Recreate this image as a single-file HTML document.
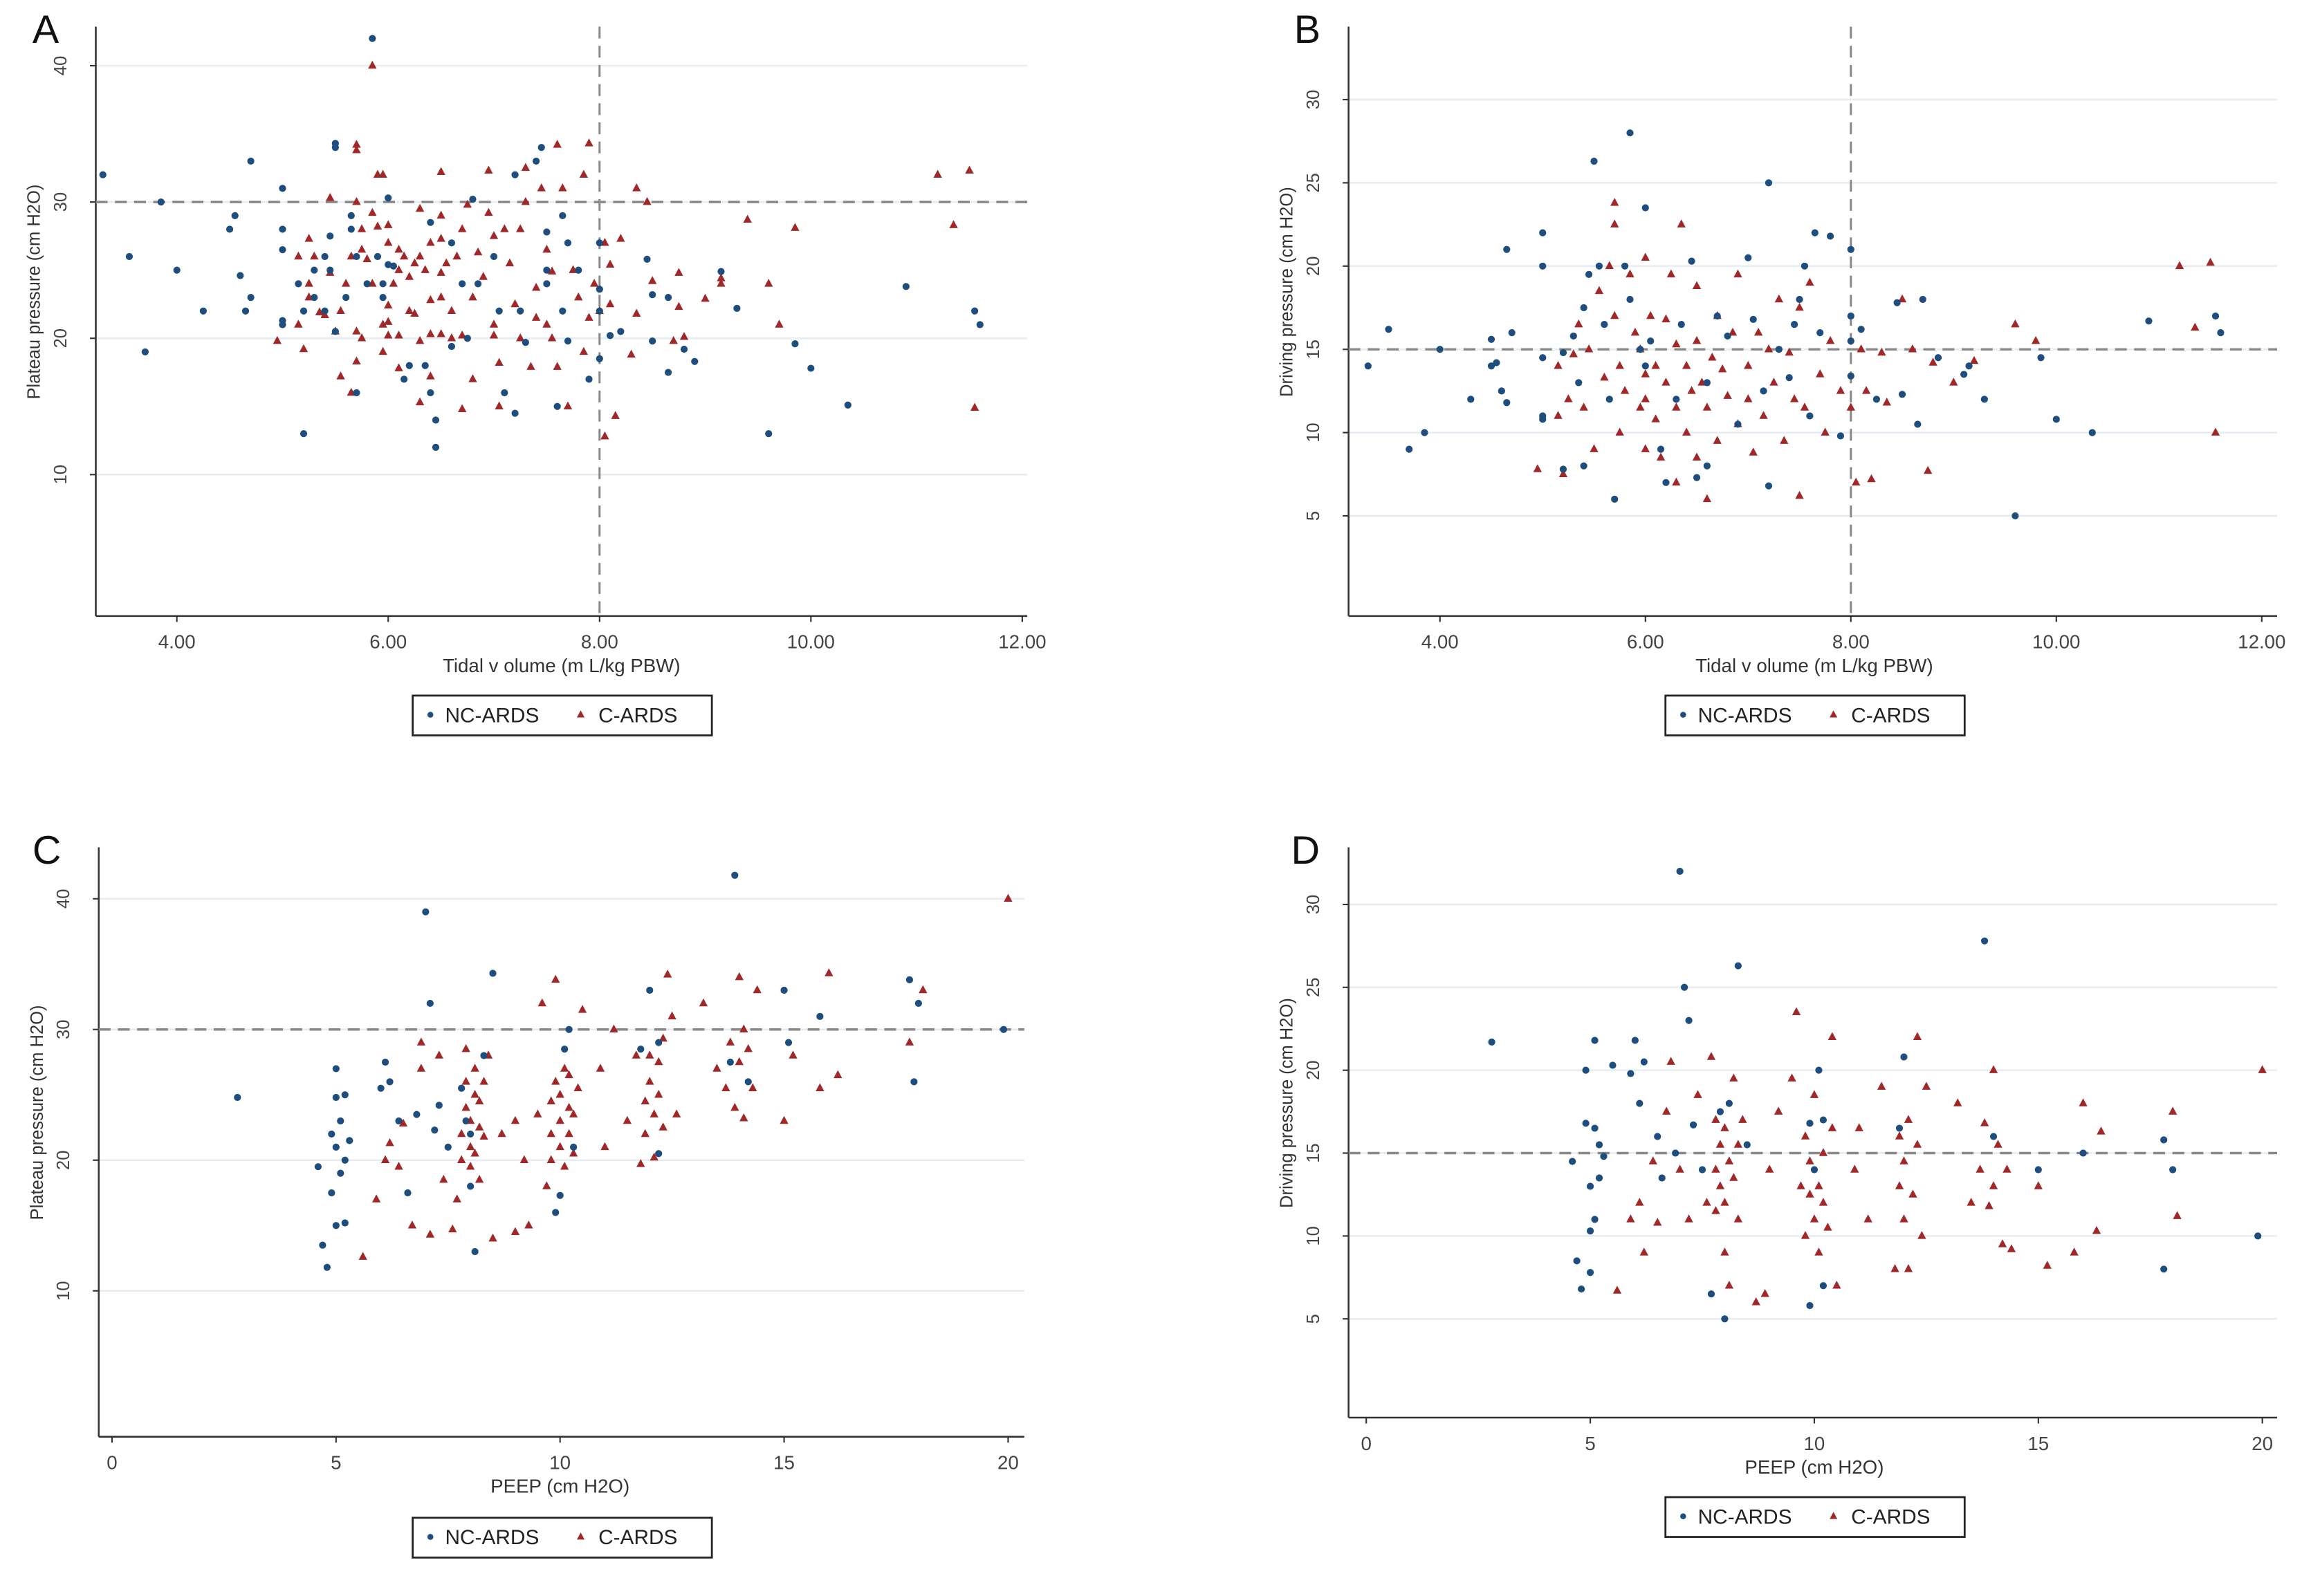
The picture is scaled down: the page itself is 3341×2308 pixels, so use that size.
<!DOCTYPE html>
<html><head><meta charset="utf-8"><style>
html,body{margin:0;padding:0;background:#fff;}
svg{display:block;font-family:"Liberation Sans",sans-serif;}
</style></head><body>
<svg id="fig" xmlns="http://www.w3.org/2000/svg" width="3341" height="2308" viewBox="0 0 1568 1083"></svg>
<script>
// ---- Panel A data (tidal volume vs plateau pressure)
const aNcX=[3.3,3.55,3.7,3.85,4.0,4.25,4.5,4.55,4.6,4.65,4.7,4.7,5.0,5.0,5.0,5.0,5.0,5.2,5.15,5.2,5.3,5.3,5.4,5.4,5.45,5.45,5.5,5.5,5.5,5.6,5.65,5.65,5.7,5.7,5.8,5.85,5.9,5.95,5.95,6.0,6.0,6.05,6.15,6.2,6.35,6.4,6.4,6.45,6.45,6.6,6.6,6.7,6.75,6.8,6.85,7.0,7.05,7.1,7.2,7.2,7.25,7.3,7.4,7.45,7.5,7.5,7.5,7.6,7.65,7.65,7.7,7.7,7.8,7.9,8.0,8.0,8.0,8.0,8.1,8.2,8.45,8.5,8.5,8.65,8.65,8.8,8.9,9.15,9.3,9.6,9.85,10.0,10.35,10.9,11.55,11.6];
const aNcY=[32,26,19,30,25,22,28,29,24.6,22,23,33,31,28,26.5,21,21.3,13,24,22,23,25,26,22,27.5,25,34.3,34,20.5,23,29,28,26,16,24,42,26,24,23,30.3,25.4,25.3,17,18,18,16,28.5,12,14,19.4,27,24,20,30.2,24,26,22,16,14.5,32,22,19.7,33,34,27.8,25,24,15,29,22,27,19.8,25,17,27,23.6,22,18.5,20.2,20.5,25.8,19.8,23.2,23,17.5,19.2,18.3,24.9,22.2,13,19.6,17.8,15.1,23.8,22,21];
const aCX=[4.95,5.15,5.15,5.2,5.25,5.25,5.25,5.3,5.35,5.4,5.45,5.45,5.5,5.55,5.55,5.6,5.65,5.65,5.7,5.7,5.7,5.75,5.75,5.7,5.7,5.75,5.8,5.85,5.85,5.85,5.9,5.9,5.95,5.95,5.95,6.0,6.0,6.0,6.0,6.0,6.05,6.1,6.1,6.1,6.1,6.15,6.2,6.2,6.25,6.25,6.3,6.3,6.3,6.3,6.35,6.4,6.4,6.4,6.4,6.5,6.5,6.5,6.5,6.5,6.5,6.55,6.6,6.6,6.65,6.7,6.7,6.7,6.75,6.8,6.8,6.85,6.9,6.95,6.95,7.0,7.0,7.0,7.05,7.05,7.1,7.15,7.2,7.25,7.25,7.3,7.3,7.35,7.4,7.4,7.45,7.5,7.5,7.55,7.55,7.6,7.6,7.65,7.7,7.75,7.8,7.85,7.85,7.9,7.9,7.95,8.0,8.05,8.05,8.1,8.1,8.15,8.2,8.3,8.35,8.35,8.45,8.5,8.7,8.75,8.75,8.8,9.0,9.15,9.15,9.4,9.6,9.7,9.85,11.2,11.35,11.5,11.55];
const aCY=[19.8,26,21,19.2,24,23,27.3,26,21.9,21.7,30.3,24.8,20.5,17.2,22,24,26,16,34.2,33.8,30,28,26.5,20.5,18.3,20,25.8,24,29.2,40,28.2,32,32,21,19,28.3,27,22.4,21.2,20.2,24,26.5,25,20.2,17.8,26,22,24.5,25.5,21.8,29.5,26,19.8,15.3,25,27,22.8,20.3,17.2,29,27.3,24.8,23,20.3,32.2,25.5,20,22,26,28,20.2,14.8,29.8,23,17,26.3,24.5,29.2,32.3,21,27.5,20.2,18.2,15,28,25.5,22.5,20,28,32.5,30,17.9,23.7,21.5,31,26.5,21,24.9,20,17.9,34.2,31,15,25,23,32,19,34.3,21.5,24,22,12.8,27,25.4,22.5,14.3,27.3,18.8,31,21.8,30,24.2,19.8,22.3,24.8,20.1,22.9,24.4,24,28.7,24,21,28.1,32,28.3,32.3,14.9];
// ---- Panel B data (tidal volume vs driving pressure)
const bNcX=[3.3,3.5,3.7,3.85,4.0,4.3,4.5,4.5,4.55,4.6,4.65,4.65,4.7,5.0,5.0,5.0,5.0,5.0,5.2,5.2,5.3,5.35,5.4,5.4,5.45,5.5,5.55,5.6,5.65,5.7,5.8,5.85,5.85,5.95,6.0,6.0,6.05,6.15,6.2,6.3,6.35,6.45,6.5,6.6,6.6,6.7,6.8,6.9,7.0,7.05,7.15,7.2,7.2,7.3,7.4,7.45,7.5,7.55,7.6,7.65,7.7,7.8,7.9,8.0,8.0,8.0,8.0,8.1,8.25,8.45,8.5,8.65,8.7,8.85,9.1,9.15,9.3,9.6,9.85,10.0,10.35,10.9,11.55,11.6];
const bNcY=[14,16.2,9,10,15,12,14,15.6,14.2,12.5,21,11.8,16,22,20,14.5,11,10.8,14.8,7.8,15.8,13,17.5,8,19.5,26.3,20,16.5,12,6,20,28,18,15,23.5,14,15.5,9,7,12,16.5,20.3,7.3,8,13,17,15.8,10.5,20.5,16.8,12.5,25,6.8,15,13.3,16.5,18,20,11,22,16,21.8,9.8,21,17,15.5,13.4,16.2,12,17.8,12.3,10.5,18,14.5,13.5,14,12,5,14.5,10.8,10,16.7,17,16];
const bCX=[4.95,5.15,5.15,5.2,5.25,5.3,5.35,5.4,5.45,5.5,5.55,5.6,5.65,5.7,5.7,5.7,5.75,5.75,5.8,5.85,5.9,5.95,5.95,6.0,6.0,6.0,6.0,6.05,6.1,6.1,6.15,6.2,6.2,6.25,6.3,6.3,6.3,6.35,6.4,6.4,6.45,6.5,6.5,6.5,6.55,6.6,6.6,6.65,6.7,6.7,6.75,6.8,6.85,6.9,6.9,7.0,7.0,7.05,7.1,7.15,7.2,7.25,7.3,7.35,7.4,7.45,7.5,7.5,7.55,7.6,7.7,7.75,7.8,7.9,8.0,8.05,8.1,8.15,8.2,8.3,8.35,8.5,8.6,8.75,8.8,9.0,9.2,9.6,9.8,11.2,11.35,11.5,11.55];
const bCY=[7.8,14,11,7.5,12,14.7,16.5,11.5,15,9,18.5,13.3,20,23.8,22.5,17,14,10,12.5,19.5,16,15,11.5,20.5,13.5,12,9,17,14,10.8,8.5,16.8,13,19.5,15.3,11.5,7,22.5,14,10,12.5,18.8,15.5,8.5,13,11.5,6,14.5,17,9.5,13.8,12.2,16,19.5,10.5,14,12,8.8,16,11,15,13,18,9.5,14.8,12,17.5,6.2,11.5,19,13.5,10,15.5,12.5,11.5,7,15,12.5,7.2,14.8,11.8,18,15,7.7,14.2,13,14.3,16.5,15.5,20,16.3,20.2,10];
// ---- Panel C data (PEEP vs plateau pressure)
const cNcX=[2.8,4.6,4.7,4.8,4.9,4.9,5.0,5.0,5.0,5.0,5.1,5.1,5.2,5.2,5.2,5.3,6.0,6.1,6.2,6.4,6.6,6.8,7.0,7.1,7.2,7.3,7.5,7.8,7.9,8.0,8.0,8.1,8.3,8.5,9.9,10.0,10.1,10.2,10.3,11.8,12.0,12.2,12.2,13.9,13.8,14.2,15.0,15.1,15.8,17.8,17.9,18.0,19.9];
const cNcY=[24.8,19.5,13.5,11.8,17.5,22,24.8,27,21,15,19,23,20,25,15.2,21.5,25.5,27.5,26,23,17.5,23.5,39,32,22.3,24.2,21,25.5,23,22,18,13,28,34.3,16,17.3,28.5,30,21,28.5,33,29,20.5,41.8,27.5,26,33,29,31,33.8,26,32,30];
const cCX=[5.6,5.9,6.1,6.2,6.4,6.5,6.7,6.9,6.9,7.1,7.3,7.4,7.6,7.7,7.8,7.8,7.9,7.9,7.9,8.0,8.0,8.0,8.1,8.1,8.1,8.2,8.2,8.2,8.3,8.3,8.4,8.5,8.7,9.0,9.0,9.2,9.3,9.5,9.6,9.7,9.8,9.8,9.8,9.9,9.9,10.0,10.0,10.0,10.1,10.1,10.2,10.2,10.2,10.3,10.3,10.4,10.5,10.9,11.0,11.2,11.5,11.7,11.8,11.9,11.9,12.0,12.0,12.1,12.1,12.2,12.2,12.3,12.3,12.4,12.5,12.6,13.2,13.5,13.7,13.8,13.9,14.0,14.0,14.1,14.1,14.2,14.3,14.4,15.0,15.2,15.8,16.0,16.2,17.8,18.1,20.0];
const cCY=[12.6,17,20,21.3,19.5,22.8,15,29,27,14.3,28,18.5,14.7,17,20,22,24,26,28.5,19.5,21,23,25,27,20.5,22.5,24.5,18.5,26,21.8,28,14,22,23,14.5,20,15,23.5,32,18,20,22,24.5,26,33.8,21,23,25,27,19.5,22,24,26.5,20.5,23.5,25.5,31.5,27,21,30,23,28,19.7,22,24.5,26,28,20.2,23.5,25,27.5,22.5,29.3,34.2,31,23.5,32,27,25.5,29,24,27.5,34,23.2,30,28.5,25.5,33,23,28,25.5,34.3,26.5,29,33,40];
// ---- Panel D data (PEEP vs driving pressure)
const dNcX=[2.8,4.6,4.7,4.8,4.9,4.9,5.0,5.0,5.0,5.1,5.1,5.1,5.2,5.2,5.3,5.5,5.9,6.0,6.1,6.2,6.5,6.6,6.9,7.0,7.1,7.2,7.3,7.5,7.7,7.9,8.0,8.1,8.3,8.5,9.9,9.9,10.0,10.1,10.2,10.2,11.9,12.0,13.8,14.0,15.0,16.0,17.8,17.8,18.0,19.9];
const dNcY=[21.7,14.5,8.5,6.8,16.8,20,13,10.3,7.8,21.8,16.5,11,15.5,13.5,14.8,20.3,19.8,21.8,18,20.5,16,13.5,15,32,25,23,16.7,14,6.5,17.5,5,18,26.3,15.5,16.8,5.8,14,20,17,7,16.5,20.8,27.8,16,14,15,15.8,8,14,10];
const dCX=[5.6,5.9,6.1,6.2,6.4,6.5,6.7,6.8,7.0,7.2,7.4,7.6,7.7,7.8,7.8,7.8,7.9,7.9,8.0,8.0,8.0,8.1,8.1,8.2,8.2,8.3,8.3,8.4,8.7,8.9,9.0,9.2,9.5,9.6,9.7,9.8,9.8,9.9,9.9,10.0,10.0,10.1,10.1,10.2,10.2,10.3,10.4,10.4,10.5,10.9,11.0,11.2,11.5,11.8,11.9,11.9,12.0,12.0,12.1,12.1,12.2,12.3,12.3,12.4,12.5,13.2,13.5,13.7,13.8,13.9,14.0,14.0,14.1,14.2,14.3,14.4,15.0,15.2,15.8,16.0,16.3,16.4,18.0,18.1,20.0];
const dCY=[6.7,11,12,9,14.5,10.8,17.5,20.5,14,11,18.5,12,20.8,17,14,11.5,15.5,13,9,16.5,12,14.5,7,19.5,13.5,11,15.5,17,6,6.5,14,17.5,19.5,23.5,13,16,10,12.5,14.5,11,18.5,13,9,15,12,10.5,22,16.5,7,14,16.5,11,19,8,16,13,11,14.5,8,17,12.5,15.5,22,10,19,18,12,14,16.8,11.8,20,13,15.5,9.5,14,9.2,13,8.2,9,18,10.3,16.3,17.5,11.2,20];
// ---- tick labels
const aXTicks=[4,6,8,10,12];const aXLabels=["4.00","6.00","8.00","10.00","12.00"];
const aYTicks=[10,20,30,40];
const bYTicks=[5,10,15,20,25,30];
const cXTicks=[0,5,10,15,20];const cYTicks=[10,20,30,40];
const dYTicks=[5,10,15,20,25,30];

const NS="http://www.w3.org/2000/svg";
const svg=document.getElementById('fig');
function mk(tag,attrs,parent){const e=document.createElementNS(NS,tag);for(const k in attrs)e.setAttribute(k,attrs[k]);(parent||svg).appendChild(e);return e;}
const BLUE="#1d4e7e",RED="#a02828";

function panel(p){
  const g=mk('g',{});
  
  
  const sx=v=>p.x0+(v-p.xv0)*p.xs, sy=v=>p.y0-(v-p.yv0)*p.ys;
  p.yt.forEach(t=>{const l=mk('line',{x1:p.left,x2:p.right,y1:sy(t),y2:sy(t),stroke:'#e6edf2','stroke-width':1.2},g);
    });
  const ya=mk('line',{x1:p.left,x2:p.left,y1:p.top,y2:p.bottom,stroke:'#333','stroke-width':1.2},g);
  
  const xa=mk('line',{x1:p.left,x2:p.right,y1:p.bottom,y2:p.bottom,stroke:'#333','stroke-width':1.2},g);
  
  p.yt.forEach(t=>{
    mk('line',{x1:p.left-4,x2:p.left,y1:sy(t),y2:sy(t),stroke:'#333','stroke-width':1},g);
    const tx=mk('text',{x:p.left-20,y:sy(t),'font-size':12,fill:'#444','text-anchor':'middle',transform:`rotate(-90 ${p.left-20} ${sy(t)})`},g);
    tx.textContent=String(t);
    
  });
  p.xt.forEach((t,i)=>{
    mk('line',{x1:sx(t),x2:sx(t),y1:p.bottom,y2:p.bottom+4,stroke:'#333','stroke-width':1},g);
    const tx=mk('text',{x:sx(t),y:p.bottom+22,'font-size':13,fill:'#444','text-anchor':'middle'},g);
    tx.textContent=p.xl?p.xl[i]:String(t);
    
  });
  const hl=mk('line',{x1:p.left,x2:p.right,y1:sy(p.href),y2:sy(p.href),stroke:'#888','stroke-width':1.6,'stroke-dasharray':'8,5'},g);
  
  if(p.vref!=null){const vl=mk('line',{x1:sx(p.vref),x2:sx(p.vref),y1:p.top,y2:p.bottom,stroke:'#888','stroke-width':1.4,'stroke-dasharray':'8,5'},g);
    }
  p.cx.forEach((v,i)=>{const x=sx(v),y=sy(p.cy[i]);
    const t=mk('polygon',{points:`${x},${y-3.4} ${x-2.9},${y+2} ${x+2.9},${y+2}`,fill:RED},g);
    });
  p.nx.forEach((v,i)=>{
    const c=mk('circle',{cx:sx(v),cy:sy(p.ny[i]),r:2.4,fill:BLUE},g);
    });
  const yt=mk('text',{x:p.left-38,y:(p.top+p.bottom)/2-20,'font-size':12,fill:'#333','text-anchor':'middle',transform:`rotate(-90 ${p.left-38} ${(p.top+p.bottom)/2-20})`},g);
  yt.textContent=p.ytitle;
  const xt=mk('text',{x:p.xtx,y:p.bottom+38,'font-size':13,fill:'#333','text-anchor':'middle'},g);
  xt.textContent=p.xtitle;
  const lt=mk('text',{x:p.lx,y:p.ly,'font-size':27,fill:'#111'},g);
  lt.textContent=p.id;
  const lg=mk('g',{},g);
  
  mk('rect',{x:p.legx,y:p.legy,width:203,height:27,fill:'#fff',stroke:'#222','stroke-width':1.3},lg);
  const lc=mk('circle',{cx:p.legx+12,cy:p.legy+13,r:2,fill:BLUE},lg);
  
  const l1=mk('text',{x:p.legx+22,y:p.legy+18,'font-size':14,fill:'#222'},lg);l1.textContent='NC-ARDS';
  
  const tx=p.legx+114,ty=p.legy+13;
  const lr=mk('polygon',{points:`${tx},${ty-3} ${tx-2.6},${ty+1.8} ${tx+2.6},${ty+1.8}`,fill:RED},lg);
  
  const l2=mk('text',{x:p.legx+126,y:p.legy+18,'font-size':14,fill:'#222'},lg);l2.textContent='C-ARDS';
  
}

panel({id:'A',left:65,right:697,top:18,bottom:418,x0:120,xv0:4,xs:71.7,y0:322,yv0:10,ys:9.25,
  xt:aXTicks,xl:aXLabels,yt:aYTicks,href:30,vref:8,nx:aNcX,ny:aNcY,cx:aCX,cy:aCY,
  ytitle:'Plateau pressure (cm H2O)',xtitle:'Tidal v olume (m L/kg PBW)',xtx:381,lx:22,ly:29,legx:280,legy:472});
panel({id:'B',left:915,right:1545,top:18,bottom:418,x0:977,xv0:4,xs:69.7,y0:350,yv0:5,ys:11.3,
  xt:aXTicks,xl:aXLabels,yt:bYTicks,href:15,vref:8,nx:bNcX,ny:bNcY,cx:bCX,cy:bCY,
  ytitle:'Driving pressure (cm H2O)',xtitle:'Tidal v olume (m L/kg PBW)',xtx:1231,lx:878,ly:29,legx:1130,legy:472});
panel({id:'C',left:67,right:695,top:575,bottom:975,x0:76,xv0:0,xs:30.4,y0:876,yv0:10,ys:8.87,
  xt:cXTicks,yt:cYTicks,href:30,vref:null,nx:cNcX,ny:cNcY,cx:cCX,cy:cCY,
  ytitle:'Plateau pressure (cm H2O)',xtitle:'PEEP (cm H2O)',xtx:380,lx:22,ly:586,legx:280,legy:1030});
panel({id:'D',left:915,right:1545,top:575,bottom:962,x0:927,xv0:0,xs:30.4,y0:895,yv0:5,ys:11.25,
  xt:cXTicks,yt:dYTicks,href:15,vref:null,nx:dNcX,ny:dNcY,cx:dCX,cy:dCY,
  ytitle:'Driving pressure (cm H2O)',xtitle:'PEEP (cm H2O)',xtx:1231,lx:876,ly:586,legx:1130,legy:1016});
</script>
</body></html>
